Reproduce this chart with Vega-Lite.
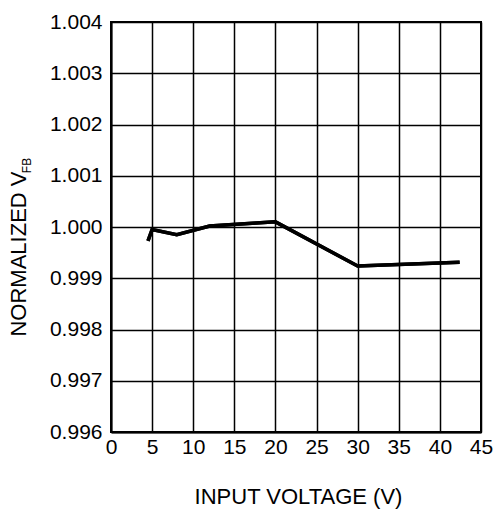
{
  "$schema": "https://vega.github.io/schema/vega-lite/v6.json",
  "autosize": "none",
  "width": 370,
  "height": 410,
  "padding": {"left": 111, "top": 22, "right": 15, "bottom": 78},
  "background": "white",
  "config": {
    "font": "Liberation Sans",
    "view": {"stroke": "black", "strokeWidth": 2},
    "axis": {
      "labelFont": "Liberation Sans",
      "titleFont": "Liberation Sans",
      "labelFontSize": 21,
      "titleFontSize": 22,
      "labelColor": "black",
      "titleColor": "black",
      "titleFontWeight": "normal",
      "gridColor": "black",
      "gridOpacity": 1,
      "gridWidth": 1.5,
      "domainColor": "black",
      "domainWidth": 2,
      "ticks": false
    }
  },
  "data": {
    "values": [
      {"v": 4.5, "n": 0.99973},
      {"v": 5, "n": 0.99995},
      {"v": 8, "n": 0.99985},
      {"v": 12, "n": 1.00002},
      {"v": 20, "n": 1.0001},
      {"v": 30, "n": 0.99924},
      {"v": 42.4, "n": 0.99931}
    ]
  },
  "encoding": {
    "x": {
      "field": "v",
      "type": "quantitative",
      "scale": {"domain": [0, 45], "nice": false, "zero": false},
      "axis": {
        "values": [0, 5, 10, 15, 20, 25, 30, 35, 40, 45],
        "title": "INPUT VOLTAGE (V)",
        "labelPadding": 4,
        "labelFlush": false,
        "titleX": 187,
        "titleY": 71,
        "titleBaseline": "alphabetic",
        "titleAnchor": null
      }
    }
  },
  "layer": [
    {
      "mark": {"type": "line", "color": "black", "strokeWidth": 3.5},
      "encoding": {
        "y": {
          "field": "n",
          "type": "quantitative",
          "scale": {"domain": [0.996, 1.004], "nice": false, "zero": false},
          "axis": {
            "orient": "left",
            "values": [0.996, 0.997, 0.998, 0.999, 1.0, 1.001, 1.002, 1.003, 1.004],
            "format": ".3f",
            "title": "NORMALIZED V",
            "labelPadding": 9,
            "labelFlush": false,
            "titleAngle": 270,
            "titleAlign": "center",
            "titleBaseline": "alphabetic",
            "titleX": -86,
            "titleY": 231.5
          }
        }
      }
    },
    {
      "mark": {"type": "line", "color": "black", "strokeWidth": 3.5},
      "encoding": {
        "y": {
          "field": "n",
          "type": "quantitative",
          "scale": {"domain": [0.996, 1.004], "nice": false, "zero": false},
          "axis": {
            "orient": "left",
            "offset": 0,
            "labels": false,
            "grid": false,
            "domain": false,
            "ticks": false,
            "title": "FB",
            "titleFontSize": 12,
            "titleAngle": 270,
            "titleAlign": "center",
            "titleBaseline": "alphabetic",
            "titleX": -81,
            "titleY": 143
          }
        }
      }
    }
  ],
  "resolve": {"scale": {"y": "independent"}, "axis": {"y": "independent"}}
}
